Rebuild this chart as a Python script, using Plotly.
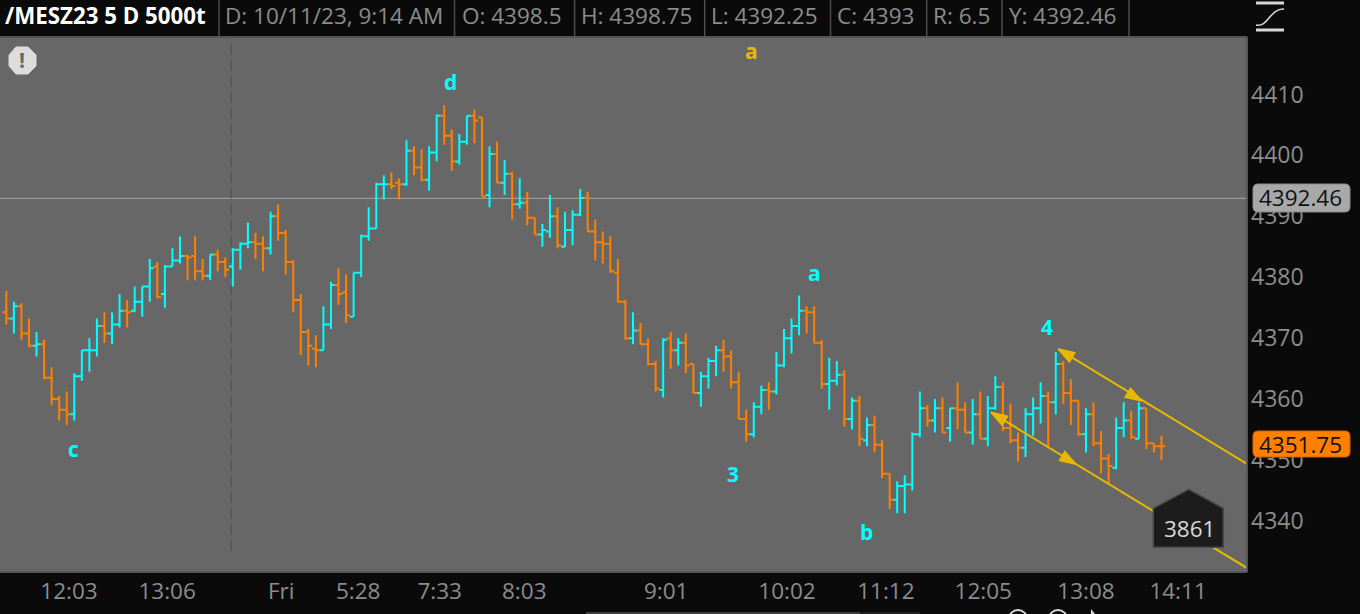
import plotly.graph_objects as go

# bars, oldest first
open_prices = [
    4373.75, 4372.75, 4374.75, 4370.25, 4368.25, 4368.5, 4363, 4359.5, 4357.75, 4357,
    4363.25, 4367.5, 4367.5, 4371.5, 4370.25, 4371.75, 4374, 4374, 4375.5, 4378,
    4381.25, 4376.75, 4381.25, 4382.25, 4383, 4383, 4380.5, 4379.75, 4383.25, 4382,
    4381.25, 4384, 4385, 4385.25, 4385, 4384.25, 4389.5, 4386.75, 4382, 4375.75,
    4370.5, 4367.75, 4367.5, 4371.75, 4378.25, 4377, 4373, 4380.25, 4386.25, 4387.5,
    4394.75, 4394.75, 4395, 4394.75, 4400.25, 4397.5, 4395.5, 4400, 4406, 4402.75,
    4398.5, 4401.75, 4406, 4405.75, 4393, 4399.75, 4395, 4396.5, 4391.5, 4391.75,
    4389.25, 4386.5, 4387, 4389.5, 4384.5, 4387.25, 4389.75, 4392.5, 4387, 4385.25,
    4385, 4380.25, 4375.5, 4369.5, 4370.75, 4368.5, 4365.25, 4361, 4369.5, 4367.5,
    4368.75, 4365.25, 4360.5, 4363.25, 4365.75, 4367.5, 4366.5, 4362.25, 4356.25, 4353.75,
    4358.25, 4361, 4360.75, 4365, 4369.5, 4371.5, 4374, 4373.75, 4368.75, 4362,
    4362.5, 4363.5, 4356.25, 4359.25, 4352.75, 4355.25, 4352, 4347.25, 4343, 4345.25,
    4345.5, 4353.75, 4358, 4356, 4358, 4354.75, 4358, 4357.75, 4354, 4357,
    4353, 4358, 4361.5, 4354.75, 4352.75, 4351.5, 4357, 4358, 4360, 4359,
    4365.25, 4360.5, 4359.25, 4353.75, 4357, 4352.25, 4349.75, 4348.25, 4354.75, 4356,
    4353, 4358, 4352.25, 4351.75,
]
high_prices = [
    4377.25, 4375.5, 4375.25, 4372.75, 4370.5, 4369.25, 4364.75, 4360, 4360.75, 4363.75,
    4367.5, 4369.5, 4372.75, 4373.75, 4373.75, 4376.75, 4375.75, 4378, 4378, 4382.5,
    4382, 4381.5, 4384.25, 4386.25, 4383.25, 4386.25, 4382.5, 4383.25, 4384, 4382.75,
    4384.25, 4385.25, 4388.5, 4386.75, 4386.25, 4390.25, 4391.5, 4387.25, 4382.25, 4376.75,
    4371, 4370, 4374.75, 4378.75, 4381, 4380, 4380.25, 4386.5, 4391, 4395,
    4396.25, 4396.75, 4395.75, 4402, 4401, 4400.5, 4401, 4406.25, 4407.75, 4403.75,
    4403, 4406, 4407, 4405.75, 4401, 4401.75, 4398.75, 4396.75, 4395.75, 4393.5,
    4389.25, 4388.25, 4393, 4391, 4390.25, 4390.5, 4394, 4393.5, 4389, 4387,
    4386.25, 4382.5, 4375.75, 4373.75, 4372, 4369.5, 4365.75, 4369.5, 4370.5, 4369.5,
    4370.25, 4365.25, 4364, 4366.25, 4368.25, 4369.25, 4367.5, 4364, 4357.75, 4359,
    4361.75, 4362.25, 4367.25, 4371, 4372.75, 4376.5, 4374.75, 4374.75, 4369.25, 4366.25,
    4365.75, 4364.25, 4359.75, 4360, 4356.5, 4356.75, 4352.75, 4347.25, 4346, 4347,
    4354, 4360.75, 4358.5, 4359.5, 4359.75, 4358, 4362.25, 4359, 4359.5, 4360.75,
    4360, 4363.25, 4362.25, 4358.75, 4354, 4358, 4359.75, 4362.25, 4360.75, 4367.25,
    4365.75, 4362.75, 4359.25, 4358, 4359, 4354.25, 4350.5, 4356.5, 4359, 4357.5,
    4359, 4358, 4352.25, 4353.5,
]
low_prices = [
    4371.75, 4370.25, 4369.25, 4368, 4366.5, 4362.75, 4358.5, 4356, 4355.25, 4356,
    4362.5, 4364, 4366.5, 4368.75, 4368.5, 4371.25, 4371.25, 4373.75, 4373, 4375.5,
    4376, 4374.5, 4381.25, 4381.75, 4379, 4379, 4379, 4379, 4380.5, 4379.5,
    4378, 4380.75, 4384.25, 4382.5, 4380.5, 4383.25, 4385.5, 4380, 4373.75, 4366.75,
    4365, 4364.75, 4367.5, 4371, 4375, 4372, 4373, 4379.5, 4385.5, 4387.5,
    4392.25, 4394, 4392.25, 4394.5, 4396.25, 4395.25, 4393.75, 4398.5, 4401.25, 4397,
    4398, 4401.25, 4401.5, 4392.75, 4391, 4395, 4393, 4389, 4390.75, 4388,
    4386.5, 4384.5, 4386, 4384.25, 4384.5, 4384.75, 4389.5, 4387, 4382.25, 4381.75,
    4380.25, 4375.5, 4369.25, 4368.5, 4368.5, 4365, 4360.75, 4359.75, 4364.5, 4365,
    4363.75, 4360.5, 4358.25, 4361.25, 4363.25, 4364, 4361.25, 4356.25, 4352.5, 4353.25,
    4357, 4357.75, 4360.25, 4364.75, 4367, 4370, 4370.25, 4368.75, 4361.25, 4357.75,
    4361.75, 4355, 4354.5, 4351.75, 4351.75, 4350.75, 4346.5, 4341.5, 4340.75, 4340.75,
    4344.5, 4353.25, 4355, 4354, 4354, 4352.5, 4354.5, 4354, 4352, 4353,
    4351.75, 4357.75, 4354.25, 4352.25, 4349.25, 4350, 4353.5, 4355.5, 4351.75, 4357,
    4358.75, 4355.25, 4353.5, 4350.75, 4351.75, 4347.25, 4345.5, 4348, 4353.25, 4353,
    4353, 4351.25, 4350.75, 4349.5,
]
close_prices = [
    4372.75, 4374.75, 4370.25, 4368.25, 4368.5, 4363, 4359.5, 4357.75, 4357, 4363.25,
    4367.5, 4367.5, 4371.5, 4370.25, 4371.75, 4374, 4373.75, 4375.5, 4378, 4381,
    4376.25, 4381.25, 4382.25, 4383, 4382.75, 4380.5, 4379.75, 4383.25, 4382, 4380.75,
    4384, 4385, 4385.25, 4385, 4384.25, 4389.5, 4386.75, 4382, 4375.75, 4370.5,
    4368.25, 4367.5, 4371.75, 4378.25, 4376.75, 4373.25, 4380.25, 4386.25, 4387.5, 4394.75,
    4394.75, 4394.5, 4394.75, 4400.25, 4397.5, 4395.5, 4400, 4406, 4402.75, 4398.5,
    4401.75, 4406, 4405.25, 4392.75, 4399.75, 4395, 4396.5, 4391.5, 4391.75, 4389.25,
    4386.5, 4387.25, 4389.5, 4384.75, 4387.25, 4389.75, 4392.5, 4387, 4385.25, 4385,
    4380.5, 4375.5, 4369.5, 4370.75, 4368.5, 4365.25, 4361.25, 4369.25, 4367.5, 4368.75,
    4365, 4360.5, 4363.25, 4365.75, 4367.5, 4366.5, 4362.25, 4356.25, 4353.75, 4358.25,
    4361, 4360.75, 4365, 4369.5, 4371.5, 4374, 4373.75, 4368.75, 4362, 4362.5,
    4363.5, 4356.25, 4359.25, 4353, 4355.25, 4352, 4347.25, 4343, 4345.25, 4345.5,
    4353.75, 4358, 4356, 4358, 4354, 4358, 4357.75, 4354, 4357, 4353,
    4358, 4361.5, 4354.75, 4352.75, 4351.5, 4357, 4358, 4360, 4359, 4365.25,
    4360.5, 4359.25, 4353.75, 4357, 4352.25, 4349.75, 4348.5, 4354.75, 4356, 4353.25,
    4358, 4352.25, 4351.75, 4351.75,
]
bar_numbers = list(range(len(close_prices)))

price_ticks = [4340, 4350, 4360, 4370, 4380, 4390, 4400, 4410]
time_tick_bars = [8.3, 21.3, 36.4, 46.6, 57.4, 68.6, 87.4, 103.4, 116.5, 129.4, 143, 155.2]
time_tick_labels = ["12:03", "13:06", "Fri", "5:28", "7:33", "8:03", "9:01", "10:02", "11:12", "12:05", "13:08", "14:11"]

# wave counts drawn on the chart
wave_labels = ["c", "d", "a", "a", "3", "b", "4"]
wave_bars = [8.83, 58.76, 98.6, 106.85, 96.1, 113.86, 137.7]
wave_prices = [4351.14, 4411.39, 4416.47, 4380.03, 4347.04, 4337.5, 4371.18]
wave_colors = ["#00ffff", "#00ffff", "#e6b800", "#00ffff", "#00ffff", "#00ffff", "#00ffff"]

# channel lines, start to right edge
upper_bars = [139.33, 164.33]
upper_prices = [4367.72, 4348.85]
lower_bars = [130.42, 164.33]
lower_prices = [4357.33, 4331.77]
arrow_bars = [139.33, 150.38, 130.42, 141.68]
arrow_prices = [4367.72, 4359.19, 4357.33, 4348.8]
arrow_angles = [-59, 121, -59, 121]

last_price = 4351.75
study_price = 4392.46
day_break_bar = 29.76

YELLOW = "#e6b800"
FONT = "Open Sans"
PLOT_W = 1247
TOP = 37
BOTTOM = 572


# picture pixels to paper fractions, for the frame around the chart
def px(x):
    return x / PLOT_W


def py(y):
    return (BOTTOM - y) / (BOTTOM - TOP)


def poly(points):
    return "M" + " L".join(f"{px(x):.5f},{py(y):.5f}" for x, y in points) + " Z"


def pill(x0, x1, y0, y1, r=5):
    return (f"M{px(x0 + r):.5f},{py(y0):.5f} L{px(x1 - r):.5f},{py(y0):.5f} "
            f"Q{px(x1):.5f},{py(y0):.5f} {px(x1):.5f},{py(y0 + r):.5f} "
            f"L{px(x1):.5f},{py(y1 - r):.5f} Q{px(x1):.5f},{py(y1):.5f} {px(x1 - r):.5f},{py(y1):.5f} "
            f"L{px(x0 + r):.5f},{py(y1):.5f} Q{px(x0):.5f},{py(y1):.5f} {px(x0):.5f},{py(y1 - r):.5f} "
            f"L{px(x0):.5f},{py(y0 + r):.5f} Q{px(x0):.5f},{py(y0):.5f} {px(x0 + r):.5f},{py(y0):.5f} Z")


def frame_text(x, y, text, color="#8c8c8c", size=22.5, bold=False, anchor="left"):
    return dict(xref="paper", yref="paper", x=px(x), y=py(y), text=f"<b>{text}</b>" if bold else text,
                showarrow=False, xanchor=anchor, yanchor="middle",
                font=dict(family=FONT, size=size, color=color))


data = [
    go.Scatter(x=upper_bars, y=upper_prices, mode="lines", line=dict(color=YELLOW, width=2), hoverinfo="skip"),
    go.Scatter(x=lower_bars, y=lower_prices, mode="lines", line=dict(color=YELLOW, width=2), hoverinfo="skip"),
    go.Ohlc(x=bar_numbers, open=open_prices, high=high_prices, low=low_prices, close=close_prices,
            increasing=dict(line=dict(color="#00ffff", width=2)),
            decreasing=dict(line=dict(color="#ff8000", width=2)),
            tickwidth=0.5, hoverinfo="skip"),
    go.Scatter(x=arrow_bars, y=arrow_prices, mode="markers", hoverinfo="skip",
               marker=dict(symbol="arrow", size=17, angle=arrow_angles, color=YELLOW,
                           line=dict(color=YELLOW, width=1.5))),
]

annotations = [
    dict(x=b, y=p, text=f"<b>{t}</b>", showarrow=False, xshift=1, yshift=1,
         font=dict(family=FONT, size=21, color=c))
    for b, p, t, c in zip(wave_bars, wave_prices, wave_labels, wave_colors)
]
annotations += [
    frame_text(3, 16, "/MESZ23 5 D 5000t", color="#ffffff", size=22.3, bold=True),
    frame_text(223, 16, "D: 10/11/23, 9:14 AM"),
    frame_text(460, 16, "O: 4398.5"),
    frame_text(579, 16, "H: 4398.75"),
    frame_text(709, 16, "L: 4392.25"),
    frame_text(835, 16, "C: 4393"),
    frame_text(931, 16, "R: 6.5"),
    frame_text(1007, 16, "Y: 4392.46"),
    frame_text(1300, 198, f"{study_price}", color="#111111", anchor="center"),
    frame_text(1300, 444, f"{last_price}", color="#111111", anchor="center"),
    frame_text(1189, 528, "3861", color="#d8d8d8", anchor="center"),
    frame_text(22, 60, "<b>!</b>", color="#666666", size=21, anchor="center"),
]

chrome = dict(xref="paper", yref="paper", layer="above")
shapes = [
    # top, right and bottom edge of the chart pane
    dict(type="line", x0=0, x1=px(1247), y0=1, y1=1, line=dict(color="#555555", width=2), **chrome),
    dict(type="line", x0=px(1247), x1=px(1247), y0=0, y1=1, line=dict(color="#555555", width=2), **chrome),
    dict(type="line", x0=0, x1=px(1247), y0=0, y1=0, line=dict(color="#555555", width=2), **chrome),
    dict(type="line", xref="paper", yref="y", x0=0, x1=1, y0=study_price, y1=study_price,
         line=dict(color="#a6a6a6", width=1), layer="below"),
    dict(type="line", xref="x", yref="paper", x0=day_break_bar, x1=day_break_bar, y0=0.04, y1=1,
         line=dict(color="#555555", width=1.5, dash="10px,6px"), layer="below"),
    dict(type="path", path=pill(1253, 1350, 184, 212), fillcolor="#a8a8a8",
         line=dict(color="#8a8a8a", width=1), **chrome),
    dict(type="path", path=pill(1253, 1350, 431, 457), fillcolor="#ff8000",
         line=dict(color="#c96600", width=1), **chrome),
    dict(type="path", path=poly([(1153.3, 508.3), (1188.7, 489.3), (1223.3, 508.3), (1223.3, 547.3), (1153.3, 547.3)]),
         fillcolor="#1c1c1c", line=dict(color="#4a4a4a", width=1.5), **chrome),
    dict(type="path", path=poly([(16, 47), (28, 47), (36, 55), (36, 66), (28, 74), (16, 74), (9, 66), (9, 55)]),
         fillcolor="#dcdcdc", line=dict(color="#dcdcdc", width=1), **chrome),
    # top right study icon
    dict(type="line", x0=px(1256), x1=px(1284), y0=py(3), y1=py(3), line=dict(color="#d8d8d8", width=3), **chrome),
    dict(type="line", x0=px(1256), x1=px(1284), y0=py(30), y1=py(30), line=dict(color="#d8d8d8", width=3), **chrome),
    dict(type="path", line=dict(color="#d8d8d8", width=1.5), **chrome,
         path=f"M{px(1256)},{py(25)} C{px(1268)},{py(28)} {px(1270)},{py(8)} {px(1284)},{py(9)}"),
    # scrollbar and buttons cut off by the bottom edge
    dict(type="rect", x0=px(586), x1=px(860), y0=py(614), y1=py(612), fillcolor="#3c3c3c", line=dict(width=0), **chrome),
    dict(type="rect", x0=px(860), x1=px(920), y0=py(614), y1=py(612), fillcolor="#1e1e1e", line=dict(width=0), **chrome),
    dict(type="circle", x0=px(1009), x1=px(1027), y0=py(628), y1=py(610), line=dict(color="#d8d8d8", width=2), **chrome),
    dict(type="circle", x0=px(1049), x1=px(1067), y0=py(628), y1=py(610), line=dict(color="#d8d8d8", width=2), **chrome),
    dict(type="path", path=poly([(1091, 609), (1091, 620), (1100, 620)]), fillcolor="#d8d8d8", line=dict(width=0), **chrome),
]
# divider lines in the header strip
for sep_x in [219, 454.5, 574.6, 704.7, 830.5, 926.7, 1002, 1129]:
    shapes.append(dict(type="line", x0=px(sep_x), x1=px(sep_x), y0=py(0), y1=py(36),
                       line=dict(color="#4d4d4d", width=1.5), **chrome))

layout = go.Layout(
    width=1360,
    height=614,
    margin=dict(l=0, r=113, t=37, b=42),
    paper_bgcolor="#0a0a0a",
    plot_bgcolor="#676767",
    showlegend=False,
    annotations=annotations,
    shapes=shapes,
    xaxis=dict(
        range=[-0.838, 164.33],
        tickvals=time_tick_bars,
        ticktext=time_tick_labels,
        tickfont=dict(family=FONT, size=22.5, color="#8c8c8c"),
        showgrid=False,
        zeroline=False,
        ticks="",
        rangeslider=dict(visible=False),
        ticklabelstandoff=3,
    ),
    yaxis=dict(
        range=[4331.12, 4418.94],
        side="right",
        tickvals=price_ticks,
        tickfont=dict(family=FONT, size=23, color="#8c8c8c"),
        showgrid=False,
        zeroline=False,
        ticks="",
        ticklabelshift=3,
        ticklabelstandoff=3,
    ),
)

fig = go.Figure(data=data, layout=layout)
fig.write_html("out.html", config=dict(displayModeBar=False),
               post_script="document.body.style.margin='0';document.body.style.background='#0a0a0a';")
